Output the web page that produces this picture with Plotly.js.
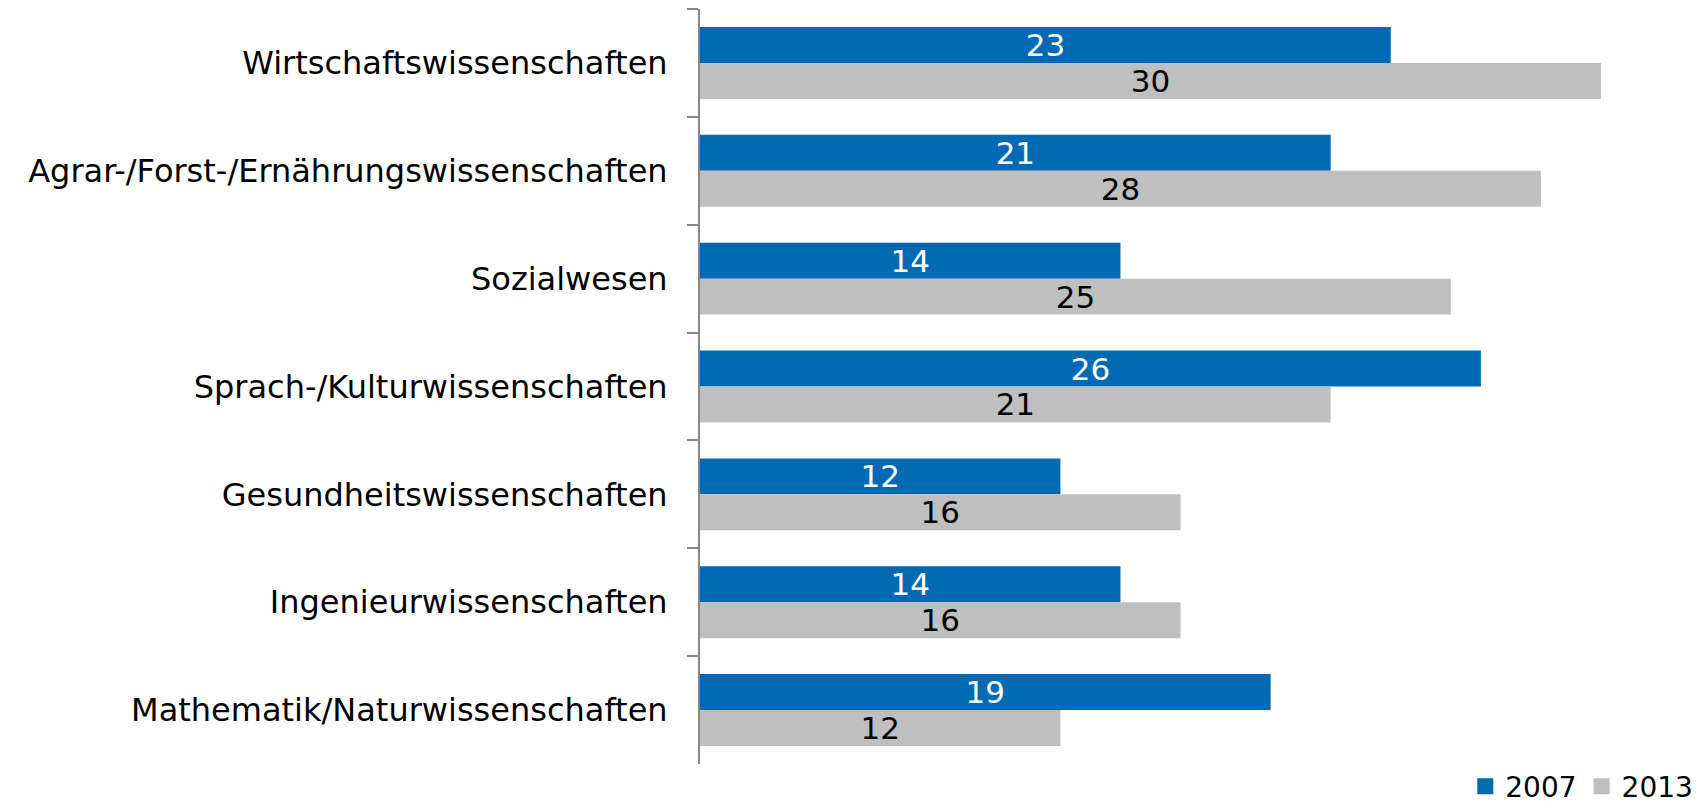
<!DOCTYPE html>
<html>
<head>
<meta charset="utf-8">
<script src="https://cdn.plot.ly/plotly-3.0.1.min.js"></script>
<style>html,body{margin:0;padding:0;background:#fff;}#chart{width:1704px;height:809px;}</style>
</head>
<body>
<div id="chart"></div>
<script>
const categories = [
  "Wirtschaftswissenschaften",
  "Agrar-/Forst-/Ernährungswissenschaften",
  "Sozialwesen",
  "Sprach-/Kulturwissenschaften",
  "Gesundheitswissenschaften",
  "Ingenieurwissenschaften",
  "Mathematik/Naturwissenschaften"
];
const values2007 = [23, 21, 14, 26, 12, 14, 19];
const values2013 = [30, 28, 25, 21, 16, 16, 12];
const seriesNames = ["2007", "2013"];
const seriesColors = ["#0069B4", "#BFBFBF"];

const FONT = "DejaVu Sans, Verdana, sans-serif";

const traces = [
  {
    type: "bar", orientation: "h", name: seriesNames[0], showlegend: false,
    y: categories, x: values2007,
    marker: {color: seriesColors[0]},
    text: values2007.map(String), textposition: "inside", insidetextanchor: "middle",
    textangle: 0, constraintext: "none",
    textfont: {family: FONT, size: 31, color: "#ffffff"},
    hoverinfo: "x+name"
  },
  {
    type: "bar", orientation: "h", name: seriesNames[1], showlegend: false,
    y: categories, x: values2013,
    marker: {color: seriesColors[1]},
    text: values2013.map(String), textposition: "inside", insidetextanchor: "middle",
    textangle: 0, constraintext: "none",
    textfont: {family: FONT, size: 31, color: "#000000"},
    hoverinfo: "x+name"
  },
  // legend-only entries (square swatches)
  {type: "scatter", mode: "markers", name: seriesNames[0], x: [null], y: [null],
   marker: {symbol: "square", size: 17, color: seriesColors[0]}, hoverinfo: "skip"},
  {type: "scatter", mode: "markers", name: seriesNames[1], x: [null], y: [null],
   marker: {symbol: "square", size: 17, color: seriesColors[1]}, hoverinfo: "skip"}
];

const layout = {
  width: 1704, height: 809,
  margin: {l: 700, r: 103, t: 9, b: 45, pad: 0, autoexpand: false},
  paper_bgcolor: "#ffffff", plot_bgcolor: "#ffffff",
  font: {family: FONT, size: 30, color: "#000000"},
  barmode: "group", bargap: 0.333, bargroupgap: 0,
  xaxis: {
    range: [0, 30], visible: false, showgrid: false, zeroline: false
  },
  yaxis: {
    type: "category", autorange: "reversed",
    categoryorder: "array", categoryarray: categories,
    showline: true, linecolor: "#878787", linewidth: 2,
    ticks: "outside", tickson: "boundaries", ticklen: 11, tickwidth: 2, tickcolor: "#878787",
    ticklabelstandoff: 24,
    tickfont: {family: FONT, size: 32, color: "#000000"},
    showgrid: false, zeroline: false
  },
  showlegend: true,
  legend: {
    orientation: "h", x: 1.108, xanchor: "right", y: -0.030, yanchor: "middle",
    font: {family: FONT, size: 28, color: "#000000"},
    traceorder: "normal", bgcolor: "rgba(0,0,0,0)", itemwidth: 30
  }
};

Plotly.newPlot("chart", traces, layout, {displayModeBar: false, responsive: false});
</script>
</body>
</html>
